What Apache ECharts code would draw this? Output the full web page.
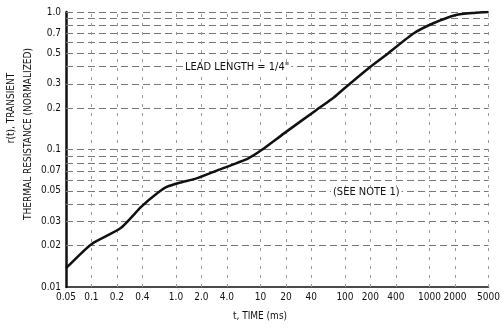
<!DOCTYPE html>
<html>
<head>
<meta charset="utf-8">
<script src="https://cdn.jsdelivr.net/npm/echarts@6/dist/echarts.min.js"></script>
<style>html,body{margin:0;padding:0;background:#fff}#c{width:503px;height:330px}</style>
</head>
<body>
<div id="c"></div>
<script>
// Curve: t (ms) vs r(t)
const timeMs = [0.05, 0.1, 0.22, 0.39, 0.6, 0.79, 1.12, 1.75, 2.97, 7.19, 10.3, 19, 46, 72, 93.5, 190, 323, 653, 1111, 2065, 3400, 5000];
const rValues = [0.0137, 0.0205, 0.0267, 0.0384, 0.048, 0.0536, 0.0574, 0.0617, 0.0698, 0.0863, 0.099, 0.131, 0.194, 0.236, 0.271, 0.39, 0.50, 0.70, 0.828, 0.951, 0.985, 1.0];

const xTicks = [0.05, 0.1, 0.2, 0.4, 1, 2, 4, 10, 20, 40, 100, 200, 400, 1000, 2000, 5000];
const xTickLabels = ['0.05', '0.1', '0.2', '0.4', '1.0', '2.0', '4.0', '10', '20', '40', '100', '200', '400', '1000', '2000', '5000'];
const yTicks = [0.01, 0.02, 0.03, 0.05, 0.07, 0.1, 0.2, 0.3, 0.5, 0.7, 1.0];
const yTickLabels = ['0.01', '0.02', '0.03', '0.05', '0.07', '0.1', '0.2', '0.3', '0.5', '0.7', '1.0'];

const hGrid = [0.02, 0.03, 0.04, 0.05, 0.06, 0.07, 0.08, 0.09, 0.1, 0.2, 0.3, 0.4, 0.5, 0.6, 0.7, 0.8, 0.9, 1.0];
const vGrid = [0.1, 0.2, 0.4, 1, 2, 4, 10, 20, 40, 100, 200, 400, 1000, 2000, 5000];

function nearestLabel(v, ticks, labels) {
  let best = 0, bd = Infinity;
  for (let i = 0; i < ticks.length; i++) {
    const d = Math.abs(Math.log(v) - Math.log(ticks[i]));
    if (d < bd) { bd = d; best = i; }
  }
  return labels[best];
}

const FONT = 'DejaVu Sans Condensed';
const chart = echarts.init(document.getElementById('c'), null, {renderer: 'canvas'});
chart.setOption({
  animation: false,
  backgroundColor: '#fff',
  grid: {left: 66, right: 3, top: 12, bottom: 43},
  xAxis: {
    type: 'log', logBase: 10, min: 0.05, max: 5000,
    axisLine: {show: true, lineStyle: {color: '#111', width: 1.5}},
    axisTick: {show: false},
    splitLine: {show: false},
    minorSplitLine: {show: false},
    axisLabel: {
      customValues: xTicks,
      formatter: v => nearestLabel(v, xTicks, xTickLabels),
      color: '#111', fontFamily: FONT, fontSize: 10, margin: 5
    }
  },
  yAxis: {
    type: 'log', logBase: 10, min: 0.01, max: 1,
    axisLine: {show: true, lineStyle: {color: '#111', width: 2.5}},
    axisTick: {show: false},
    splitLine: {show: false},
    axisLabel: {
      customValues: yTicks,
      formatter: v => nearestLabel(v, yTicks, yTickLabels),
      color: '#111', fontFamily: FONT, fontSize: 10, margin: 5
    }
  },
  series: [
    {
      type: 'line', data: [], z: 1, silent: true,
      markLine: {
        silent: true, symbol: 'none', animation: false,
        label: {show: false},
        lineStyle: {color: '#777', type: [7, 4], width: 1},
        data: hGrid.map(v => ({yAxis: v})).concat(vGrid.map(v => ({xAxis: v, lineStyle: {color: '#999', type: [3, 6], width: 1}})))
      }
    },
    {
      type: 'line', z: 5,
      data: timeMs.map((t, i) => [t, rValues[i]]),
      showSymbol: false, smooth: 0.2,
      lineStyle: {color: '#111', width: 2.5}
    }
  ],
  graphic: [
    {type: 'text', left: 183, top: 62, z: 10,
      style: {text: 'LEAD LENGTH = 1/4"', font: '11px "DejaVu Sans Condensed"', fill: '#111', backgroundColor: '#fff', padding: [0, 2]}},
    {type: 'text', left: 331, top: 187, z: 10,
      style: {text: '(SEE NOTE 1)', font: '11px "DejaVu Sans Condensed"', fill: '#111', backgroundColor: '#fff', padding: [0, 2]}},
    {type: 'text', x: 260, y: 316, z: 10,
      style: {text: 't, TIME (ms)', font: '10px "DejaVu Sans Condensed"', fill: '#111', align: 'center', verticalAlign: 'middle'}},
    {type: 'text', x: 11, y: 108, rotation: Math.PI / 2, z: 10,
      style: {text: 'r(t), TRANSIENT', font: '10px "DejaVu Sans Condensed"', fill: '#111', align: 'center', verticalAlign: 'middle'}},
    {type: 'text', x: 28, y: 134, rotation: Math.PI / 2, z: 10,
      style: {text: 'THERMAL RESISTANCE (NORMALIZED)', font: '10px "DejaVu Sans Condensed"', fill: '#111', align: 'center', verticalAlign: 'middle'}}
  ]
});
</script>
</body>
</html>
